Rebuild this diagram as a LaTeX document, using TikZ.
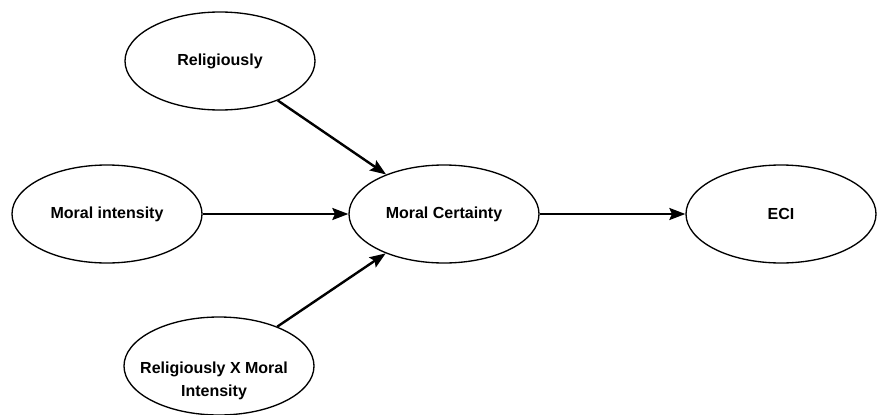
\documentclass[tikz,border=0pt]{standalone}
\usepackage{fontspec}
\setmainfont{Liberation Sans}
\usepackage{tikz}
\usetikzlibrary{shapes.geometric,arrows.meta}

\begin{document}
\begin{tikzpicture}[x=0.75pt,y=0.75pt,yscale=-1,xscale=1,
    construct/.style={draw, ellipse, line width=1pt, inner sep=0pt,
        minimum width=142.5pt, minimum height=73.5pt,
        font=\fontsize{12}{15}\selectfont\bfseries},
    path/.style={draw, line width=1.8pt, -{Stealth[length=12pt,width=9pt,inset=2pt]}}]
        \useasboundingbox (0,0) rectangle (880,414);

        %Shape: Ellipse [Religiously]
        \node[construct] (rel) at (220,61) {Religiously};
        %Shape: Ellipse [Moral intensity]
        \node[construct] (mi) at (107,214) {Moral intensity};
        %Shape: Ellipse [Moral Certainty]
        \node[construct] (mc) at (444,214) {Moral Certainty};
        %Shape: Ellipse [ECI]
        \node[construct] (eci) at (781,214) {ECI};
        %Shape: Ellipse [interaction]
        \node[construct] (rxm) at (219,366) {};
        % Text Node
        \node[align=center, inner sep=0.75pt, font=\fontsize{12}{17}\selectfont\bfseries] (rxmtxt) at (214,381) {Religiously X Moral\\Intensity};

        %Straight Lines
        \draw[path] (rel) -- (mc);
        \draw[path] (mi) -- (mc);
        \draw[path] (rxm) -- (mc);
        \draw[path] (mc) -- (eci);

\end{tikzpicture}
\end{document}
